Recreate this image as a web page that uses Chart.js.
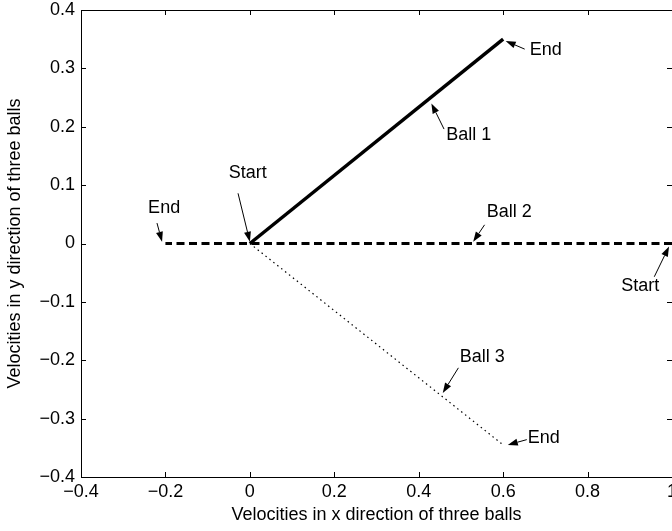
<!DOCTYPE html>
<html>
<head>
<meta charset="utf-8">
<script src="https://cdn.jsdelivr.net/npm/chart.js@4"></script>
<style>
  html, body { margin: 0; padding: 0; background: #fff; overflow: hidden; }
  #wrap { width: 672px; height: 531px; overflow: hidden; }
</style>
</head>
<body>
<div id="wrap"><canvas id="velChart" width="690" height="531"></canvas></div>
<script>
// tick values
const xTicks = [-0.4, -0.2, 0, 0.2, 0.4, 0.6, 0.8, 1];
const yTicks = [-0.4, -0.3, -0.2, -0.1, 0, 0.1, 0.2, 0.3, 0.4];

// series (velocity x, velocity y)
const ball1X = [0, 0.6];
const ball1Y = [0, 0.35];
const ball2X = [1, -0.2];
const ball2Y = [0, 0];
const ball3X = [0, 0.6];
const ball3Y = [0, -0.345];

// text arrows, in data units: label spot, arrow tail, arrow tip
const notes = [
    { text: 'End',    at: [0.663, 0.331],   align: 'left',   tail: [0.651, 0.333],   tip: [0.606, 0.347] },
    { text: 'Ball 1', at: [0.465, 0.186],   align: 'left',   tail: [0.46, 0.196],    tip: [0.43, 0.24] },
    { text: 'Start',  at: [-0.005, 0.121],  align: 'center', tail: [-0.028, 0.086],  tip: [0.0, 0.003] },
    { text: 'End',    at: [-0.241, 0.061],  align: 'left',   tail: [-0.22, 0.035],   tip: [-0.208, 0.003] },
    { text: 'Ball 2', at: [0.561, 0.054],   align: 'left',   tail: [0.556, 0.032],   tip: [0.529, 0.003] },
    { text: 'Start',  at: [0.88, -0.073],   align: 'left',   tail: [0.958, -0.057],  tip: [0.993, -0.005] },
    { text: 'Ball 3', at: [0.497, -0.194],  align: 'left',   tail: [0.494, -0.213],  tip: [0.457, -0.256] },
    { text: 'End',    at: [0.658, -0.333],  align: 'left',   tail: [0.656, -0.336],  tip: [0.611, -0.345] }
];

const FONT = '"Liberation Sans", Arial, Helvetica, sans-serif';
const FSIZE = 18;

function toPoints(xs, ys) {
    return xs.map((x, i) => ({ x: x, y: ys[i] }));
}

function fmt(v) {
    if (Math.abs(v) < 1e-9) return '0';
    return String(+v.toFixed(1)).replace('-', '\u2212');
}

// box round the plot with inward ticks on all four sides
const boxPlugin = {
    id: 'box',
    afterDatasetsDraw(chart) {
        const { ctx, chartArea: a, scales } = chart;
        const len = 5;
        ctx.save();
        ctx.strokeStyle = '#000';
        ctx.lineWidth = 1;
        ctx.beginPath();
        ctx.rect(Math.round(a.left) + 0.5, Math.round(a.top) + 0.5,
                 Math.round(a.right - a.left), Math.round(a.bottom - a.top));
        xTicks.forEach(v => {
            const px = Math.round(scales.x.getPixelForValue(v)) + 0.5;
            ctx.moveTo(px, a.bottom); ctx.lineTo(px, a.bottom - len);
            ctx.moveTo(px, a.top); ctx.lineTo(px, a.top + len);
        });
        yTicks.forEach(v => {
            const py = Math.round(scales.y.getPixelForValue(v)) + 0.5;
            ctx.moveTo(a.left, py); ctx.lineTo(a.left + len, py);
            ctx.moveTo(a.right, py); ctx.lineTo(a.right - len, py);
        });
        ctx.stroke();
        ctx.restore();
    }
};

// arrows with labels
const notePlugin = {
    id: 'notes',
    afterDatasetsDraw(chart) {
        const { ctx, scales } = chart;
        const sx = v => scales.x.getPixelForValue(v);
        const sy = v => scales.y.getPixelForValue(v);
        ctx.save();
        ctx.fillStyle = '#000';
        ctx.strokeStyle = '#000';
        ctx.lineWidth = 1;
        ctx.font = FSIZE + 'px ' + FONT;
        ctx.textBaseline = 'middle';
        notes.forEach(n => {
            const x0 = sx(n.tail[0]), y0 = sy(n.tail[1]);
            const x1 = sx(n.tip[0]), y1 = sy(n.tip[1]);
            const ang = Math.atan2(y1 - y0, x1 - x0);
            const hl = 10, hw = 3.5;
            const bx = x1 - hl * Math.cos(ang), by = y1 - hl * Math.sin(ang);
            ctx.beginPath();
            ctx.moveTo(x0, y0);
            ctx.lineTo(bx, by);
            ctx.stroke();
            ctx.beginPath();
            ctx.moveTo(x1, y1);
            ctx.lineTo(bx + hw * Math.sin(ang), by - hw * Math.cos(ang));
            ctx.lineTo(bx - hw * Math.sin(ang), by + hw * Math.cos(ang));
            ctx.closePath();
            ctx.fill();
            ctx.textAlign = n.align;
            ctx.fillText(n.text, sx(n.at[0]), sy(n.at[1]));
        });
        ctx.restore();
    }
};

const ctx = document.getElementById('velChart').getContext('2d');

new Chart(ctx, {
    type: 'scatter',
    data: {
        datasets: [
            {
                label: 'Ball 1',
                data: toPoints(ball1X, ball1Y),
                showLine: true,
                borderColor: '#000',
                borderWidth: 3.5,
                pointRadius: 0
            },
            {
                label: 'Ball 2',
                data: toPoints(ball2X, ball2Y),
                showLine: true,
                borderColor: '#000',
                borderWidth: 3,
                borderDash: [8, 4.5],
                pointRadius: 0
            },
            {
                label: 'Ball 3',
                data: toPoints(ball3X, ball3Y),
                showLine: true,
                borderColor: '#000',
                borderWidth: 1.2,
                borderDash: [1.5, 3.5],
                pointRadius: 0
            }
        ]
    },
    options: {
        responsive: false,
        animation: false,
        clip: false,
        layout: { padding: { top: 10, right: 18, bottom: 0, left: 0 } },
        plugins: {
            legend: { display: false },
            tooltip: { enabled: false }
        },
        scales: {
            x: {
                type: 'linear',
                min: -0.4,
                max: 1,
                afterBuildTicks: s => { s.ticks = xTicks.map(v => ({ value: v })); },
                afterFit: s => { s.height = 54; s.paddingLeft = 0; s.paddingRight = 0; },
                grid: { display: false, drawTicks: false },
                border: { display: false },
                ticks: {
                    padding: 4,
                    color: '#000',
                    font: { family: FONT, size: FSIZE },
                    maxRotation: 0,
                    callback: v => fmt(v)
                },
                title: {
                    display: true,
                    text: 'Velocities in x direction of three balls',
                    color: '#000',
                    font: { family: FONT, size: FSIZE },
                    padding: { top: 0, bottom: 5 }
                }
            },
            y: {
                type: 'linear',
                min: -0.4,
                max: 0.4,
                afterBuildTicks: s => { s.ticks = yTicks.map(v => ({ value: v })); },
                afterFit: s => { s.width = 81; s.paddingTop = 0; s.paddingBottom = 0; },
                grid: { display: false, drawTicks: false },
                border: { display: false },
                ticks: {
                    padding: 6,
                    color: '#000',
                    font: { family: FONT, size: FSIZE },
                    callback: v => fmt(v)
                },
                title: {
                    display: true,
                    text: 'Velocities in y direction of three balls',
                    color: '#000',
                    font: { family: FONT, size: FSIZE },
                    padding: { top: 4, bottom: 0 }
                }
            }
        }
    },
    plugins: [boxPlugin, notePlugin]
});
</script>
</body>
</html>
